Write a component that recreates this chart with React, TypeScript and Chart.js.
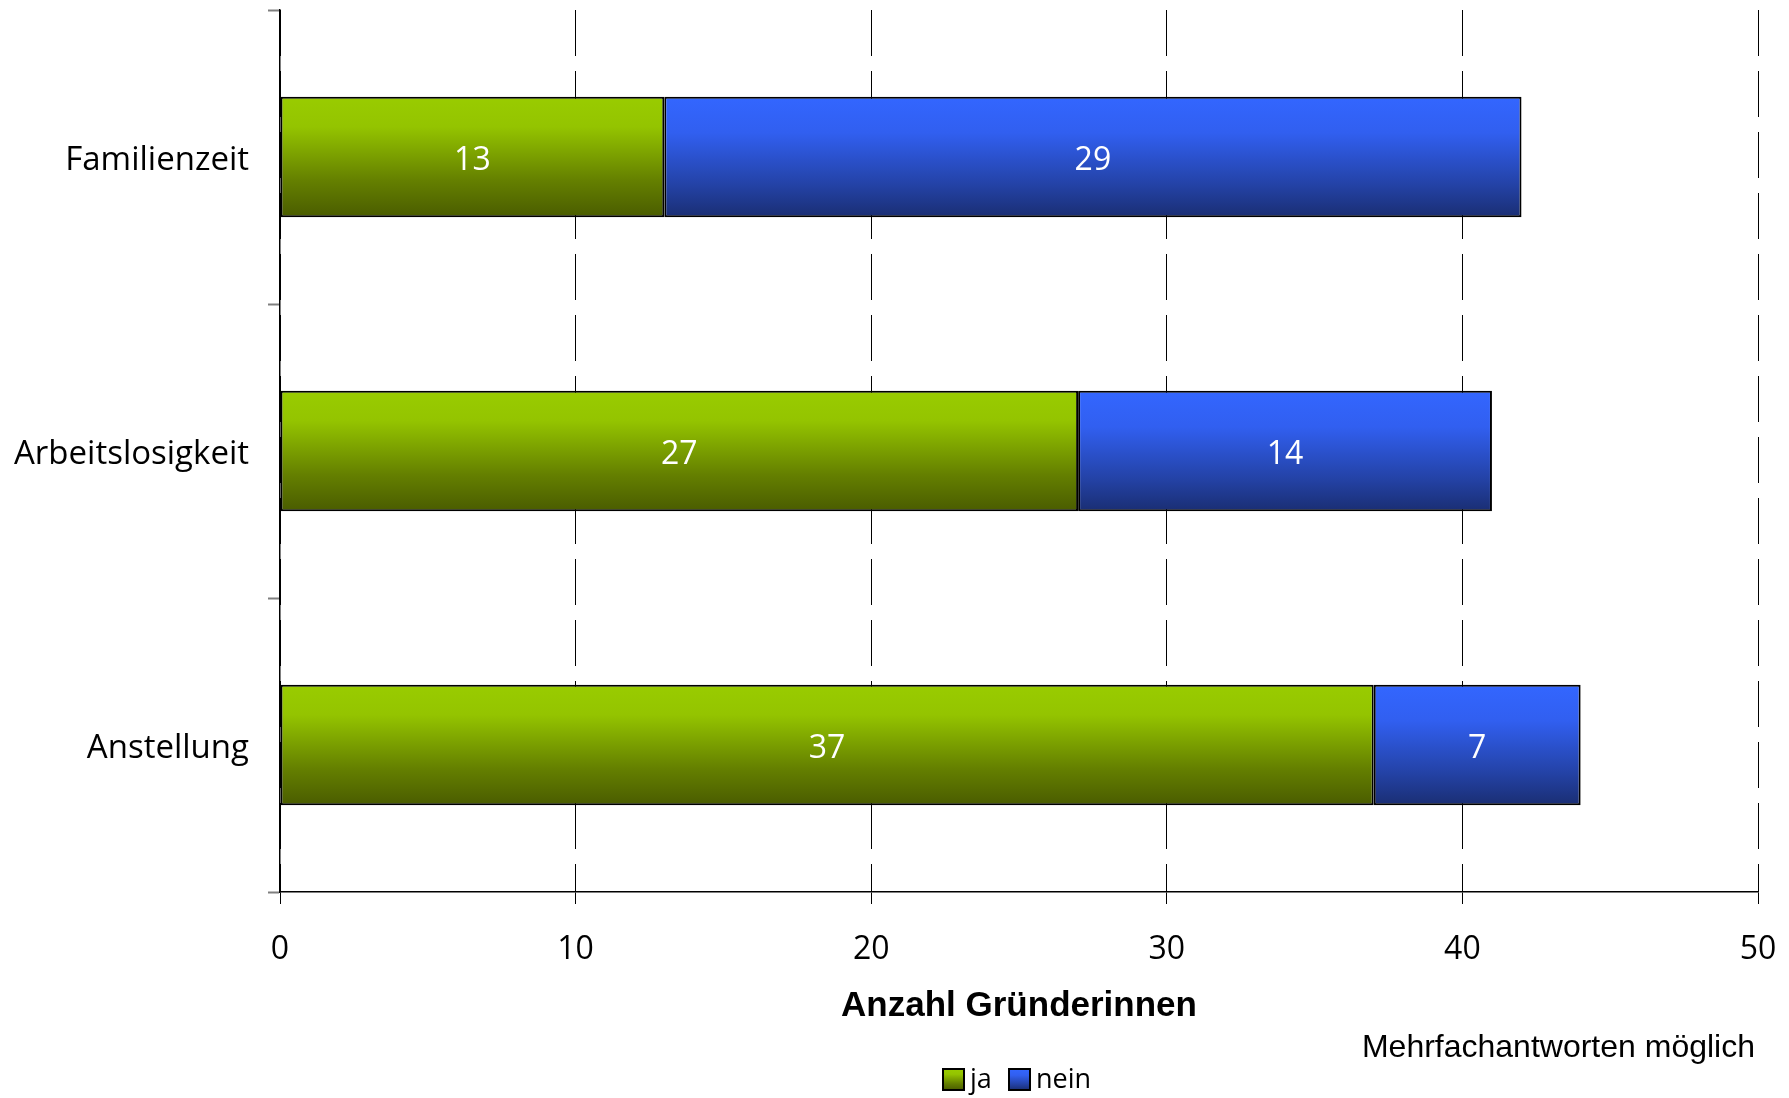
import React, { useEffect, useRef } from "react";
import { Chart, registerables } from "chart.js";

Chart.register(...registerables);

const categories = ["Familienzeit", "Arbeitslosigkeit", "Anstellung"];
const jaValues = [13, 27, 37];
const neinValues = [29, 14, 7];
const seriesNames = ["ja", "nein"];
const xTicks = [0, 10, 20, 30, 40, 50];
const axisTitle = "Anzahl Gründerinnen";
const noteText = "Mehrfachantworten möglich";

const greenStops: [number, string][] = [
  [0, "#99CC00"],
  [0.25, "#94C400"],
  [0.7, "#647F00"],
  [1, "#4A5C00"],
];
const blueStops: [number, string][] = [
  [0, "#3366FF"],
  [0.3, "#315FF0"],
  [0.72, "#2443A8"],
  [1, "#1A2E73"],
];

const BAR_PCT = 0.41;
const TICK_FONT = "'Open Sans', 'Noto Sans', sans-serif";

function makeGrad(ctx: CanvasRenderingContext2D, y0: number, y1: number, stops: [number, string][]) {
  const g = ctx.createLinearGradient(0, y0, 0, y1);
  stops.forEach(([o, c]) => g.addColorStop(o, c));
  return g;
}

function barFill(stops: [number, string][]) {
  return (c: any) => {
    const chart = c.chart;
    const area = chart.chartArea;
    if (!area) return stops[0][1];
    const y = chart.scales.y;
    const yc = y.getPixelForValue(c.dataIndex);
    const band = (area.bottom - area.top) / categories.length;
    const h = band * BAR_PCT;
    return makeGrad(chart.ctx, yc - h / 2, yc + h / 2, stops);
  };
}

const extrasPlugin = {
  id: "extras",
  afterDatasetsDraw(chart: any) {
    const ctx = chart.ctx;
    ctx.save();
    ctx.fillStyle = "#FFFFFF";
    ctx.font = `32px ${TICK_FONT}`;
    ctx.textAlign = "center";
    ctx.textBaseline = "middle";
    chart.data.datasets.forEach((ds: any, di: number) => {
      const meta = chart.getDatasetMeta(di);
      meta.data.forEach((el: any, i: number) => {
        const p = el.getProps(["x", "y", "base"], true);
        const cx = (p.x + p.base) / 2;
        ctx.fillText(String(ds.data[i]), cx, p.y + 4);
      });
    });
    ctx.restore();
  },
  afterDraw(chart: any) {
    const ctx = chart.ctx;
    const area = chart.chartArea;
    ctx.save();
    ctx.fillStyle = "#000";
    ctx.font = "bold 35px 'Liberation Sans', Arial, sans-serif";
    ctx.textAlign = "center";
    ctx.textBaseline = "alphabetic";
    ctx.fillText(axisTitle, (area.left + area.right) / 2, 1016);
    ctx.font = "32px 'Liberation Sans', Arial, sans-serif";
    ctx.textAlign = "right";
    ctx.fillText(noteText, 1755, 1057);
    const boxes = [
      { x: 943, stops: greenStops },
      { x: 1009, stops: blueStops },
    ];
    ctx.font = `27px ${TICK_FONT}`;
    ctx.textAlign = "left";
    ctx.textBaseline = "middle";
    seriesNames.forEach((name, i) => {
      const b = boxes[i];
      const by = 1069;
      const bs = 21;
      ctx.fillStyle = makeGrad(ctx, by, by + bs, b.stops);
      ctx.fillRect(b.x, by, bs, bs);
      ctx.lineWidth = 2;
      ctx.strokeStyle = "#000";
      ctx.strokeRect(b.x, by, bs, bs);
      ctx.fillStyle = "#000";
      ctx.fillText(name, b.x + bs + 6, by + bs / 2 + 1);
    });
    ctx.restore();
  },
};

export default function App() {
  const ref = useRef<HTMLCanvasElement | null>(null);
  useEffect(() => {
    if (!ref.current) return;
    const chart = new Chart(ref.current, {
      type: "bar",
      data: {
        labels: categories,
        datasets: [
          {
            label: seriesNames[0],
            data: jaValues,
            backgroundColor: barFill(greenStops) as any,
            borderColor: "#000",
            borderWidth: 2,
            borderSkipped: false,
            barPercentage: BAR_PCT,
            categoryPercentage: 1,
          },
          {
            label: seriesNames[1],
            data: neinValues,
            backgroundColor: barFill(blueStops) as any,
            borderColor: "#000",
            borderWidth: 2,
            borderSkipped: false,
            barPercentage: BAR_PCT,
            categoryPercentage: 1,
          },
        ],
      },
      options: {
        indexAxis: "y",
        responsive: false,
        animation: false,
        devicePixelRatio: 1,
        layout: { padding: { top: 10, right: 31, bottom: 0, left: 0 } },
        plugins: {
          legend: { display: false },
          tooltip: { enabled: false },
          title: { display: false },
        },
        scales: {
          x: {
            type: "linear",
            stacked: true,
            min: xTicks[0],
            max: xTicks[xTicks.length - 1],
            afterBuildTicks: (s: any) => {
              s.ticks = xTicks.map((v) => ({ value: v }));
            },
            afterFit: (s: any) => {
              s.height = 206;
              s.paddingLeft = 0;
              s.paddingRight = 0;
            },
            ticks: {
              color: "#000",
              font: { family: TICK_FONT, size: 32 },
              padding: 27,
              maxRotation: 0,
            },
            grid: {
              color: "#000",
              lineWidth: 1,
              tickLength: 12,
              tickColor: "#000",
              tickWidth: 1,
            },
            border: { color: "#000", width: 1.5, dash: [46, 15] },
          },
          y: {
            stacked: true,
            afterFit: (s: any) => {
              s.width = 280;
              s.paddingTop = 0;
              s.paddingBottom = 0;
            },
            ticks: {
              color: "#000",
              font: { family: TICK_FONT, size: 33 },
              padding: 19,
              labelOffset: 4,
            },
            grid: {
              drawOnChartArea: false,
              tickLength: 12,
              tickColor: "#7F7F7F",
              tickWidth: 2,
              offset: true,
            },
            border: { color: "#000", width: 1.5 },
          },
        },
      } as any,
      plugins: [extrasPlugin],
    });
    return () => chart.destroy();
  }, []);
  return (
    <div style={{ position: "absolute", left: 0, top: 0, width: 1789, height: 1098, background: "#fff" }}>
      <canvas ref={ref} width={1789} height={1098} style={{ display: "block", width: 1789, height: 1098 }} />
    </div>
  );
}
